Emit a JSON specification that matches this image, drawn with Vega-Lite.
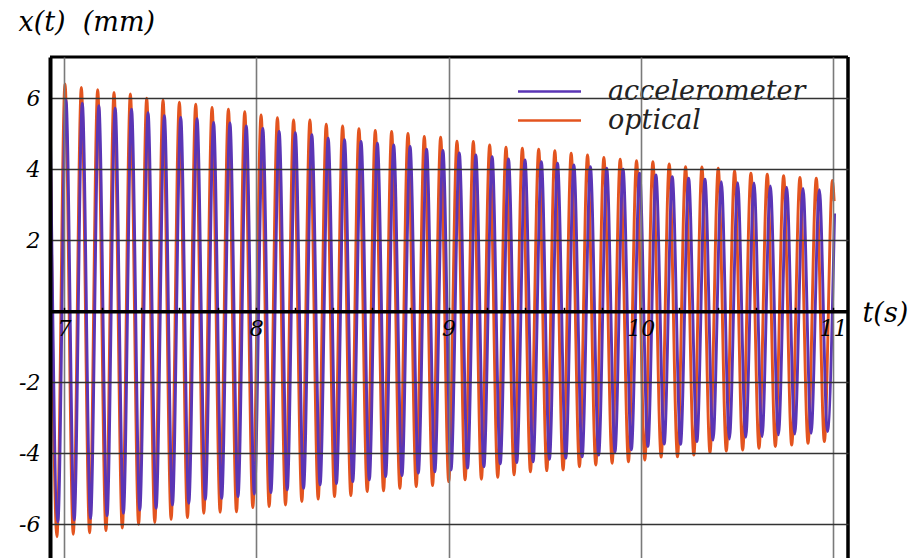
{
  "$schema": "https://vega.github.io/schema/vega-lite/v6.json",
  "width": 798,
  "height": 501,
  "autosize": {"type": "none"},
  "padding": {"left": 50, "top": 57, "right": 65, "bottom": 0},
  "background": "white",
  "config": {"view": {"stroke": null}, "font": "DejaVu Serif"},
  "datasets": {
    "optical": [
      {"t":6.927,"x":5.6},{"t":6.963,"x":-6.35},{"t":7.005,"x":6.40},{"t":7.048,"x":-6.28},{"t":7.090,"x":6.30},{"t":7.133,"x":-6.24},{"t":7.175,"x":6.24},{"t":7.218,"x":-6.18},{"t":7.260,"x":6.16},{"t":7.303,"x":-6.11},{"t":7.345,"x":6.12},{"t":7.388,"x":-6.00},{"t":7.430,"x":6.00},{"t":7.472,"x":-5.95},{"t":7.515,"x":5.95},{"t":7.557,"x":-5.86},{"t":7.600,"x":5.89},{"t":7.642,"x":-5.81},{"t":7.685,"x":5.83},{"t":7.727,"x":-5.69},{"t":7.770,"x":5.74},{"t":7.812,"x":-5.66},{"t":7.855,"x":5.69},{"t":7.897,"x":-5.65},{"t":7.940,"x":5.62},{"t":7.982,"x":-5.53},{"t":8.025,"x":5.53},{"t":8.067,"x":-5.50},{"t":8.110,"x":5.45},{"t":8.152,"x":-5.46},{"t":8.194,"x":5.39},{"t":8.237,"x":-5.36},{"t":8.279,"x":5.39},{"t":8.322,"x":-5.29},{"t":8.364,"x":5.27},{"t":8.407,"x":-5.22},{"t":8.449,"x":5.22},{"t":8.492,"x":-5.19},{"t":8.534,"x":5.14},{"t":8.577,"x":-5.08},{"t":8.619,"x":5.09},{"t":8.662,"x":-5.06},{"t":8.704,"x":5.06},{"t":8.747,"x":-4.99},{"t":8.789,"x":5.01},{"t":8.832,"x":-4.94},{"t":8.874,"x":4.92},{"t":8.917,"x":-4.91},{"t":8.959,"x":4.90},{"t":9.001,"x":-4.80},{"t":9.044,"x":4.79},{"t":9.086,"x":-4.75},{"t":9.129,"x":4.78},{"t":9.171,"x":-4.73},{"t":9.214,"x":4.68},{"t":9.256,"x":-4.68},{"t":9.299,"x":4.62},{"t":9.341,"x":-4.61},{"t":9.384,"x":4.59},{"t":9.426,"x":-4.52},{"t":9.469,"x":4.56},{"t":9.511,"x":-4.49},{"t":9.553,"x":4.52},{"t":9.596,"x":-4.47},{"t":9.638,"x":4.45},{"t":9.681,"x":-4.38},{"t":9.723,"x":4.40},{"t":9.766,"x":-4.33},{"t":9.808,"x":4.33},{"t":9.851,"x":-4.28},{"t":9.893,"x":4.28},{"t":9.936,"x":-4.24},{"t":9.978,"x":4.24},{"t":10.021,"x":-4.19},{"t":10.063,"x":4.21},{"t":10.106,"x":-4.11},{"t":10.148,"x":4.15},{"t":10.191,"x":-4.10},{"t":10.233,"x":4.07},{"t":10.276,"x":-4.05},{"t":10.318,"x":4.06},{"t":10.360,"x":-3.98},{"t":10.403,"x":4.03},{"t":10.445,"x":-3.94},{"t":10.488,"x":3.95},{"t":10.530,"x":-3.91},{"t":10.573,"x":3.89},{"t":10.615,"x":-3.86},{"t":10.658,"x":3.86},{"t":10.700,"x":-3.81},{"t":10.743,"x":3.82},{"t":10.785,"x":-3.77},{"t":10.828,"x":3.77},{"t":10.870,"x":-3.72},{"t":10.913,"x":3.75},{"t":10.955,"x":-3.67},{"t":10.997,"x":3.68},{"t":11.006,"x":3.10}
    ],
    "accel": [
      {"t":6.927,"x":5.95},{"t":6.968,"x":-5.93},{"t":7.010,"x":5.95},{"t":7.053,"x":-5.88},{"t":7.095,"x":5.86},{"t":7.138,"x":-5.83},{"t":7.181,"x":5.79},{"t":7.224,"x":-5.76},{"t":7.266,"x":5.72},{"t":7.309,"x":-5.69},{"t":7.351,"x":5.69},{"t":7.394,"x":-5.60},{"t":7.437,"x":5.59},{"t":7.479,"x":-5.55},{"t":7.522,"x":5.51},{"t":7.564,"x":-5.46},{"t":7.607,"x":5.46},{"t":7.649,"x":-5.41},{"t":7.692,"x":5.42},{"t":7.735,"x":-5.30},{"t":7.778,"x":5.32},{"t":7.820,"x":-5.27},{"t":7.863,"x":5.30},{"t":7.905,"x":-5.22},{"t":7.948,"x":5.22},{"t":7.990,"x":-5.15},{"t":8.034,"x":5.15},{"t":8.076,"x":-5.11},{"t":8.119,"x":5.06},{"t":8.161,"x":-5.03},{"t":8.203,"x":5.03},{"t":8.246,"x":-4.99},{"t":8.289,"x":4.97},{"t":8.332,"x":-4.89},{"t":8.374,"x":4.87},{"t":8.417,"x":-4.85},{"t":8.459,"x":4.83},{"t":8.502,"x":-4.80},{"t":8.545,"x":4.78},{"t":8.588,"x":-4.75},{"t":8.630,"x":4.73},{"t":8.673,"x":-4.66},{"t":8.715,"x":4.68},{"t":8.758,"x":-4.63},{"t":8.800,"x":4.64},{"t":8.843,"x":-4.56},{"t":8.886,"x":4.56},{"t":8.929,"x":-4.52},{"t":8.971,"x":4.53},{"t":9.013,"x":-4.47},{"t":9.056,"x":4.46},{"t":9.099,"x":-4.42},{"t":9.142,"x":4.40},{"t":9.184,"x":-4.38},{"t":9.227,"x":4.35},{"t":9.269,"x":-4.30},{"t":9.312,"x":4.29},{"t":9.355,"x":-4.26},{"t":9.398,"x":4.26},{"t":9.440,"x":-4.24},{"t":9.483,"x":4.21},{"t":9.525,"x":-4.17},{"t":9.567,"x":4.17},{"t":9.610,"x":-4.14},{"t":9.652,"x":4.12},{"t":9.695,"x":-4.10},{"t":9.738,"x":4.07},{"t":9.781,"x":-4.05},{"t":9.823,"x":4.03},{"t":9.866,"x":-3.96},{"t":9.908,"x":4.00},{"t":9.951,"x":-3.90},{"t":9.994,"x":3.89},{"t":10.037,"x":-3.81},{"t":10.079,"x":3.84},{"t":10.122,"x":-3.74},{"t":10.164,"x":3.79},{"t":10.207,"x":-3.75},{"t":10.249,"x":3.75},{"t":10.292,"x":-3.67},{"t":10.334,"x":3.72},{"t":10.376,"x":-3.63},{"t":10.419,"x":3.65},{"t":10.461,"x":-3.60},{"t":10.504,"x":3.62},{"t":10.546,"x":-3.55},{"t":10.589,"x":3.61},{"t":10.631,"x":-3.53},{"t":10.674,"x":3.53},{"t":10.716,"x":-3.48},{"t":10.759,"x":3.49},{"t":10.801,"x":-3.46},{"t":10.844,"x":3.46},{"t":10.886,"x":-3.44},{"t":10.929,"x":3.42},{"t":10.971,"x":-3.39},{"t":11.008,"x":2.75}
    ]
  },
  "layer": [
    {
      "data": {"name": "optical"},
      "mark": {"type": "line", "interpolate": "monotone", "strokeWidth": 2.9, "clip": true},
      "encoding": {
        "x": {
          "field": "t", "type": "quantitative",
          "scale": {"domain": [6.927, 11.078], "nice": false, "zero": false},
          "axis": {
            "orient": "bottom",
            "offset": -246.7,
            "zindex": 1,
            "tickCount": 200,
            "values": [7,7.2,7.4,7.6,7.8,8,8.2,8.4,8.6,8.8,9,9.2,9.4,9.6,9.8,10,10.2,10.4,10.6,10.8,11],
            "domainColor": "black", "domainWidth": 3.5,
            "ticks": true, "tickSize": -4, "tickColor": "black", "tickWidth": 1.5,
            "labelExpr": "abs(datum.value - round(datum.value)) < 0.01 ? '' + round(datum.value) : ''",
            "labelFont": "DejaVu Serif", "labelFontStyle": "italic", "labelFontSize": 22, "labelColor": "black",
            "labelPadding": 11, "labelDx": 5, "labelAlign": "center", "labelBaseline": "top",
            "labelOverlap": false, "labelFlush": false,
            "grid": true, "gridColor": "#7a7a7a", "gridWidth": 1.6,
            "gridOpacity": {"condition": {"test": "abs(datum.value - round(datum.value)) < 0.01", "value": 1}, "value": 0},
            "title": "t(s)", "titleFont": "DejaVu Serif", "titleFontStyle": "italic", "titleFontSize": 27,
            "titleFontWeight": "normal", "titleColor": "black",
            "titleX": 812, "titleY": 10, "titleAlign": "left", "titleBaseline": "alphabetic"
          }
        },
        "y": {
          "field": "x", "type": "quantitative",
          "scale": {"domain": [-6.95, 7.16], "nice": false, "zero": false},
          "axis": {
            "values": [-6, -4, -2, 2, 4, 6],
            "tickCount": 100,
            "zindex": 1,
            "labelExpr": "(datum.value < 0 ? '-' : '') + abs(datum.value)",
            "domain": true, "domainColor": "black", "domainWidth": 4,
            "ticks": false, "labelPadding": 10,
            "labelFont": "DejaVu Serif", "labelFontStyle": "italic", "labelFontSize": 22, "labelColor": "black",
            "grid": true, "gridColor": "#333333", "gridWidth": 1.3,
            "title": "x(t)\u00a0 (mm)", "titleAngle": 0, "titleX": -32, "titleY": -27,
            "titleAlign": "left", "titleBaseline": "alphabetic",
            "titleFont": "DejaVu Serif", "titleFontStyle": "italic", "titleFontSize": 27,
            "titleFontWeight": "normal", "titleColor": "black"
          }
        },
        "color": {
          "datum": "optical", "type": "nominal",
          "scale": {"domain": ["accelerometer", "optical"], "range": ["#5A35B5", "#E3541F"]},
          "legend": {
            "orient": "none", "legendX": 486, "legendY": 21, "title": null,
            "symbolType": "M-3,0H3", "symbolSize": 441, "symbolStrokeWidth": 2.6, "symbolFillColor": "transparent",
            "labelFont": "DejaVu Serif", "labelFontStyle": "italic", "labelFontSize": 27, "labelColor": "#222222",
            "labelLimit": 0, "labelOffset": 45, "rowPadding": 1, "padding": 0
          }
        }
      }
    },
    {
      "data": {"name": "accel"},
      "mark": {"type": "line", "interpolate": "monotone", "strokeWidth": 2.9, "clip": true},
      "encoding": {
        "x": {"field": "t", "type": "quantitative"},
        "y": {"field": "x", "type": "quantitative"},
        "color": {"datum": "accelerometer", "type": "nominal"}
      }
    },
    {
      "data": {"values": [{}]},
      "mark": {"type": "rule", "color": "black", "strokeWidth": 3},
      "encoding": {"y": {"datum": 7.16, "type": "quantitative"}}
    },
    {
      "data": {"values": [{}]},
      "mark": {"type": "rule", "color": "black", "strokeWidth": 3.5},
      "encoding": {"x": {"datum": 11.078, "type": "quantitative"}}
    }
  ]
}
